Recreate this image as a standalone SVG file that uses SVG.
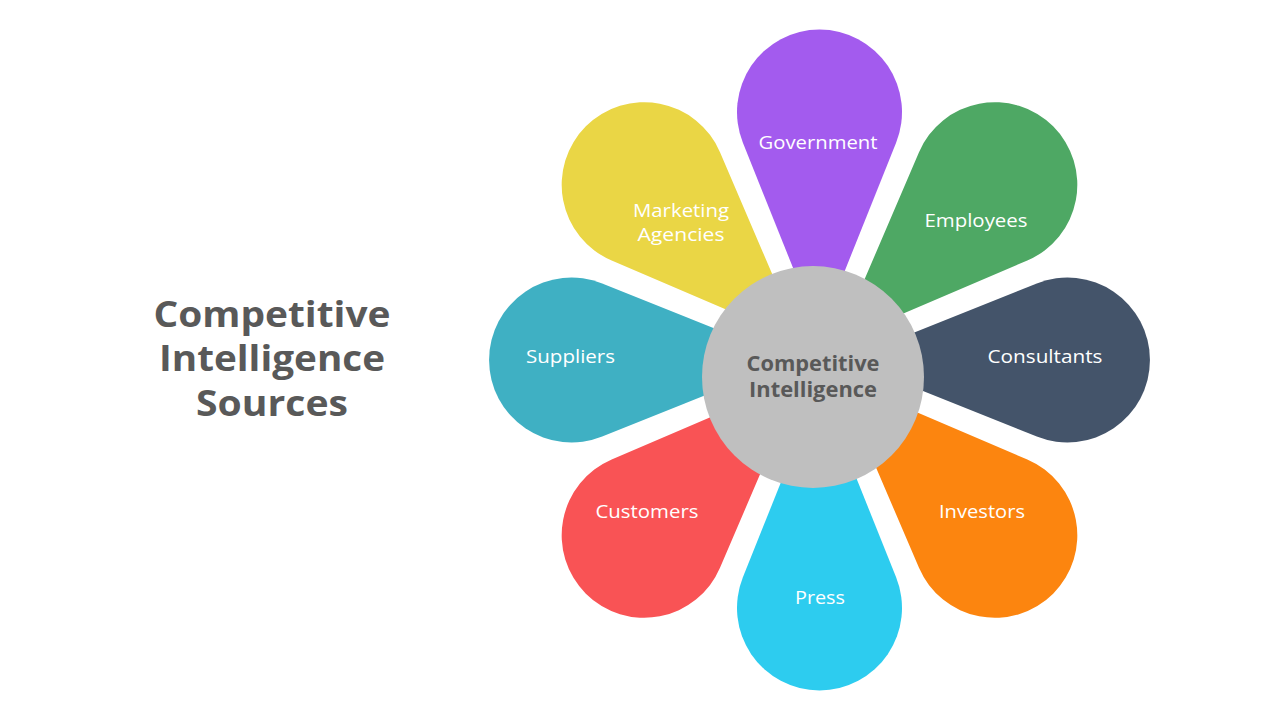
<svg xmlns="http://www.w3.org/2000/svg" xmlns:xlink="http://www.w3.org/1999/xlink" width="1280" height="720" viewBox="0 0 1280 720">
  <defs>
    <path id="petal" d="M0,-26 L76.6,-217.3 A82.5,82.5 0 1 0 -76.6,-217.3 Z"/>
  </defs>
  <style>
    .lbl { font-family: "Open Sans", "Liberation Sans", sans-serif; font-size: 19px; fill: #FFFFFF; text-anchor: middle; }
    .lbl2 { font-size: 17.5px; }
    .ctr { font-family: "Open Sans", "Liberation Sans", sans-serif; font-size: 21px; font-weight: 700; fill: #595959; text-anchor: middle; }
    .ttl { font-family: "Open Sans", "Liberation Sans", sans-serif; font-size: 35px; font-weight: 700; fill: #595959; text-anchor: middle; }
  </style>
  <rect width="1280" height="720" fill="#FFFFFF"/>

  <g id="title">
    <text class="ttl" x="272" y="327" textLength="237" lengthAdjust="spacingAndGlyphs">Competitive</text>
    <text class="ttl" x="272" y="371" textLength="226" lengthAdjust="spacingAndGlyphs">Intelligence</text>
    <text class="ttl" x="272" y="416" textLength="152" lengthAdjust="spacingAndGlyphs">Sources</text>
  </g>

  <g id="petals">
    <g id="government">
      <use xlink:href="#petal" href="#petal" transform="translate(819.5,360) rotate(0)" fill="#A35BEE"/>
      <text class="lbl" x="818" y="149" textLength="119" lengthAdjust="spacingAndGlyphs">Government</text>
    </g>
    <g id="employees">
      <use xlink:href="#petal" href="#petal" transform="translate(819.5,360) rotate(45)" fill="#4EA864"/>
      <text class="lbl" x="976" y="227" textLength="103" lengthAdjust="spacingAndGlyphs">Employees</text>
    </g>
    <g id="consultants">
      <use xlink:href="#petal" href="#petal" transform="translate(819.5,360) rotate(90)" fill="#44546A"/>
      <text class="lbl" x="1045" y="363" textLength="115" lengthAdjust="spacingAndGlyphs">Consultants</text>
    </g>
    <g id="investors">
      <use xlink:href="#petal" href="#petal" transform="translate(819.5,360) rotate(135)" fill="#FC850F"/>
      <text class="lbl" x="982" y="518" textLength="86" lengthAdjust="spacingAndGlyphs">Investors</text>
    </g>
    <g id="press">
      <use xlink:href="#petal" href="#petal" transform="translate(819.5,360) rotate(180)" fill="#2DCCEF"/>
      <text class="lbl" x="820" y="604" textLength="50" lengthAdjust="spacingAndGlyphs">Press</text>
    </g>
    <g id="customers">
      <use xlink:href="#petal" href="#petal" transform="translate(819.5,360) rotate(225)" fill="#F95355"/>
      <text class="lbl" x="647" y="518" textLength="103" lengthAdjust="spacingAndGlyphs">Customers</text>
    </g>
    <g id="suppliers">
      <use xlink:href="#petal" href="#petal" transform="translate(819.5,360) rotate(270)" fill="#3FB0C3"/>
      <text class="lbl" x="570.5" y="363" textLength="89" lengthAdjust="spacingAndGlyphs">Suppliers</text>
    </g>
    <g id="marketing-agencies">
      <use xlink:href="#petal" href="#petal" transform="translate(819.5,360) rotate(315)" fill="#EAD645"/>
      <text class="lbl lbl2" x="681" y="217" textLength="96" lengthAdjust="spacingAndGlyphs">Marketing</text>
      <text class="lbl lbl2" x="681" y="241" textLength="87" lengthAdjust="spacingAndGlyphs">Agencies</text>
    </g>
  </g>

  <g id="center">
    <circle cx="813" cy="377" r="111" fill="#BFBFBF"/>
    <text class="ctr" x="813" y="371" textLength="133" lengthAdjust="spacingAndGlyphs">Competitive</text>
    <text class="ctr" x="813" y="397" textLength="128" lengthAdjust="spacingAndGlyphs">Intelligence</text>
  </g>

  <g id="connectors"/>
</svg>
